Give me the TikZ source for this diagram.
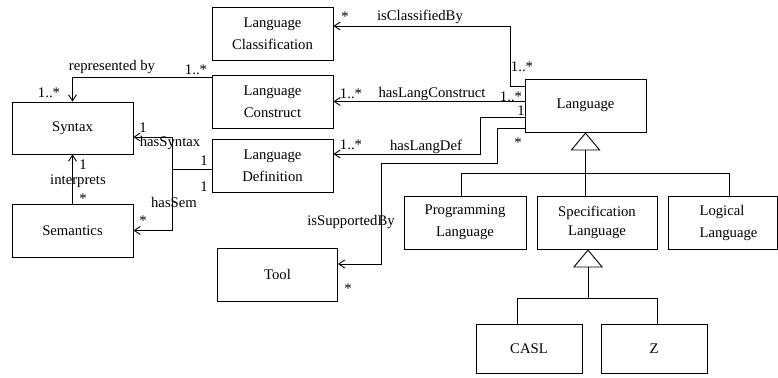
\documentclass[tikz,border=0pt]{standalone}
\usepackage{fontspec}
\setmainfont{Liberation Serif}
\usetikzlibrary{arrows.meta,calc}
\begin{document}
\begin{tikzpicture}[x=1pt,y=-1pt,
  font=\fontsize{14.7}{22}\selectfont,
  box/.style={draw, line width=0.9pt, inner sep=0pt, align=center, minimum width=121pt, minimum height=53pt},
  assoc/.style={line width=0.9pt, -{Straight Barb[length=6pt,width=8pt]}},
  conn/.style={line width=0.9pt},
  gen/.style={line width=0.9pt, -{Triangle[open,length=18pt,width=30pt]}},
  lbl/.style={inner sep=0pt, text height=10.5pt, text depth=3pt}]
\useasboundingbox (0,0) rectangle (778,377);

% classes
\node[box] (lc)   at (272.5,33.5)  {Language\\Classification};
\node[box] (lcon) at (272.5,101.5) {Language\\Construct};
\node[box] (ldef) at (272.5,165.5) {Language\\Definition};
\node[box] (lang) at (585.5,105.5) {Language};
\node[box, minimum height=52pt] (syn) at (72.5,128) {Syntax};
\node[box] (sem)  at (72.5,230.5) {Semantics};
\node[box, minimum width=120pt] (tool) at (277.5,274.5) {Tool};
\node[box, minimum width=122pt] (prog) at (465,222.5) {Programming\\Language};
\node[box, minimum width=120pt, font=\fontsize{14.7}{19}\selectfont] (spec) at (597,222.5) {Specification\\Language};
\node[box, minimum width=109pt] (logic) at (722.5,222.5) {};
\node[align=left, inner sep=0pt] at (728.5,222.5) {Logical\\Language};
\node[box, minimum width=106pt, minimum height=49pt] (casl) at (529,348.5) {CASL};
\node[box, minimum width=106pt, minimum height=49pt] (z) at (654,348.5) {Z};

% generalisation: Language
\coordinate (j1) at (585.5,173);
\coordinate (jP) at (461,173);
\coordinate (jL) at (729,173);
\draw[gen] (j1) -- (lang.south);
\draw[conn] (jP |- prog.north) -- (jP) -- (jL) -- (jL |- logic.north);
\draw[conn] (j1) -- (j1 |- spec.north);

% generalisation: Specification Language
\coordinate (j2) at (588,298);
\coordinate (jC) at (517,298);
\coordinate (jZ) at (657,298);
\draw[gen] (j2) -- (j2 |- spec.south);
\draw[conn] (jC |- casl.north) -- (jC) -- (jZ) -- (jZ |- z.north);

% associations
\draw[assoc] ([yshift=-8pt]lang.north west) -- ++(-14,0) |- ([yshift=7.5pt]lc.east);
\draw[assoc] (lang.west |- lcon.east) -- (lcon.east);
\draw[assoc] ([yshift=-11.5pt]lang.west) -- ++(-44,0) |- ([yshift=11.5pt]ldef.east);
\draw[assoc] ([yshift=-22.5pt]lang.west) -- ++(-27,0) -- ++(0,35) -- ++(-116,0) |- ([yshift=10.5pt]tool.east);
\draw[assoc] ([yshift=-3pt]lcon.north west) -| (syn.north);
\draw[assoc] (sem.north) -- (syn.south);
\draw[conn] ([yshift=-3.5pt]ldef.west) -- ++(-39,0) coordinate (jd);
\draw[assoc] (jd) |- ([yshift=-9pt]syn.east);
\draw[assoc] (jd) |- (sem.east);

% labels
\node[lbl] at (345,18) {*};
\node[lbl] at (420,17) {isClassifiedBy};
\node[lbl] at (522,68) {1..*};
\node[lbl] at (351,95) {1..*};
\node[lbl] at (432,94) {hasLangConstruct};
\node[lbl] at (511,98) {1..*};
\node[lbl] at (521,112) {1};
\node[lbl] at (518,144) {*};
\node[lbl] at (351,146) {1..*};
\node[lbl] at (426,147) {hasLangDef};
\node[lbl] at (351,222) {isSupportedBy};
\node[lbl] at (348,290) {*};
\node[lbl] at (112,67) {represented by};
\node[lbl] at (196,71) {1..*};
\node[lbl] at (49,94) {1..*};
\node[lbl] at (143,129) {1};
\node[lbl] at (170,143) {hasSyntax};
\node[lbl] at (204,162) {1};
\node[lbl] at (204,188) {1};
\node[lbl] at (174,204) {hasSem};
\node[lbl] at (143,222) {*};
\node[lbl] at (83,166) {1};
\node[lbl] at (78,181) {interprets};
\node[lbl] at (83,200) {*};
\end{tikzpicture}
\end{document}
